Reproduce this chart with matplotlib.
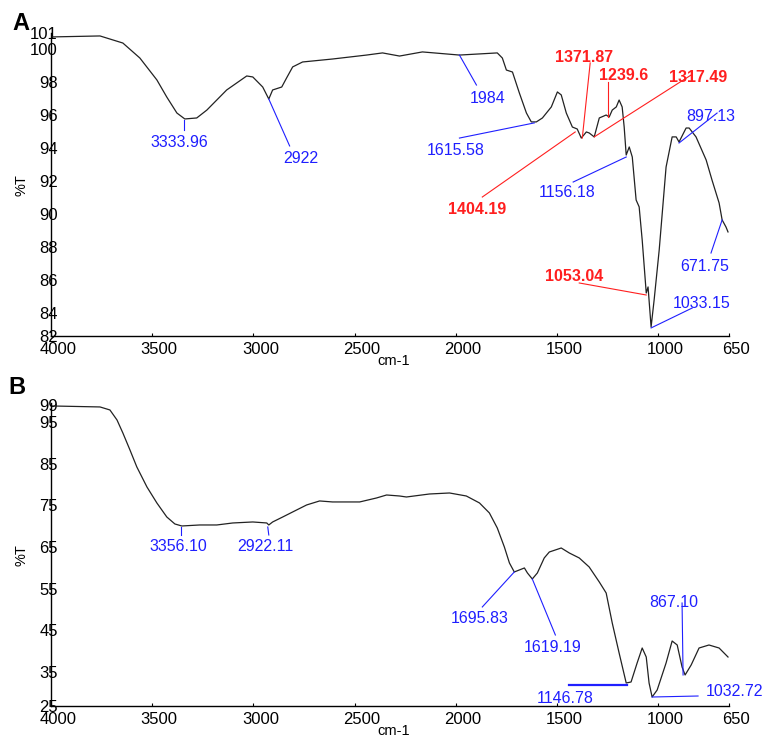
import matplotlib
matplotlib.use('Agg')
import matplotlib.pyplot as plt
from matplotlib.transforms import ScaledTranslation

plt.rcParams['font.family'] = ['Liberation Sans', 'DejaVu Sans']

# ---- panel A spectrum (wavenumber, %T)
wn_a = [4000, 3758, 3645, 3561, 3477, 3428, 3378, 3339, 3280, 3230, 3132, 3033, 3003,
        2954, 2924, 2905, 2860, 2836, 2806, 2757, 2609, 2441, 2362, 2278, 2165, 1982,
        1795, 1770, 1750, 1720, 1686, 1651, 1627, 1602, 1572, 1528, 1498, 1479, 1454,
        1424, 1400, 1380, 1355, 1341, 1316, 1291, 1257, 1242, 1227, 1207, 1193, 1178,
        1168, 1158, 1143, 1128, 1109, 1094, 1079, 1059, 1050, 1035, 1020, 995, 961,
        931, 911, 897, 862, 847, 813, 763, 734, 699, 684, 665, 655]
t_a = [100.76, 100.82, 100.39, 99.48, 98.15, 97.11, 96.14, 95.78, 95.84, 96.32, 97.54,
       98.39, 98.33, 97.72, 96.99, 97.54, 97.72, 98.27, 98.94, 99.24, 99.42, 99.66,
       99.79, 99.60, 99.85, 99.66, 99.79, 99.48, 98.75, 98.63, 97.36, 96.14, 95.60,
       95.60, 95.84, 96.51, 97.42, 97.24, 96.14, 95.29, 95.17, 94.62, 94.99, 94.93,
       94.69, 95.84, 96.02, 95.90, 96.32, 96.51, 96.93, 96.51, 95.29, 93.59, 94.08,
       93.47, 90.86, 90.44, 88.43, 85.21, 85.58, 83.15, 84.79, 87.82, 92.86, 94.69,
       94.69, 94.38, 95.23, 95.23, 94.69, 93.29, 92.07, 90.68, 89.65, 89.22, 88.92]

# ---- panel B spectrum
wn_b = [4000, 3758, 3709, 3674, 3645, 3610, 3576, 3526, 3477, 3428, 3388, 3354, 3265,
        3181, 3102, 3003, 2934, 2924, 2905, 2855, 2806, 2737, 2673, 2609, 2475, 2392,
        2342, 2278, 2244, 2130, 2031, 1948, 1883, 1834, 1795, 1760, 1735, 1711, 1686,
        1661, 1646, 1622, 1597, 1563, 1538, 1479, 1439, 1390, 1341, 1291, 1257, 1227,
        1193, 1158, 1134, 1104, 1079, 1059, 1045, 1030, 1005, 961, 931, 906, 882, 867,
        837, 798, 749, 699, 655]
t_b = [98.84, 98.60, 97.88, 95.48, 92.36, 88.29, 84.21, 79.41, 75.58, 72.22, 70.54,
       70.06, 70.30, 70.30, 70.78, 71.02, 70.78, 70.30, 71.02, 72.22, 73.42, 75.10,
       76.06, 75.82, 75.82, 76.77, 77.49, 77.25, 77.01, 77.73, 77.97, 77.25, 75.58,
       73.18, 69.58, 65.02, 61.19, 59.03, 59.51, 59.99, 58.79, 57.35, 58.79, 62.39,
       63.82, 64.78, 63.58, 62.39, 60.23, 56.63, 53.99, 46.80, 39.60, 32.41, 32.65,
       37.21, 40.80, 38.64, 32.41, 29.05, 30.73, 37.21, 42.48, 41.52, 36.25, 34.33,
       36.73, 40.80, 41.52, 40.80, 38.64]

xticks = [4000, 3500, 3000, 2500, 2000, 1500, 1000, 650]
yticks_a = [82.6, 84, 86, 88, 90, 92, 94, 96, 98, 100, 101]
ylabels_a = ['82', '84', '86', '88', '90', '92', '94', '96', '98', '100', '101']
yticks_b = [26.9, 35, 45, 55, 65, 75, 85, 95, 99]
ylabels_b = ['25', '35', '45', '55', '65', '75', '85', '95', '99']

# peak labels: text, colour, bold, line (x0, y0, x1, y1), text position
peaks_a = [
    ('3333.96', 'b', False, (3344, 95.72, 3344, 95.11), (3364, 94.38)),
    ('2922', 'b', False, (2924, 96.99, 2821, 94.14), (2767, 93.35)),
    ('1984', 'b', False, (1982, 99.66, 1898, 97.84), (1844, 97.05)),
    ('1615.58', 'b', False, (1612, 95.54, 1982, 94.62), (2002, 93.84)),
    ('1371.87', 'r', True, (1375, 94.62, 1336, 99.18), (1365, 99.54)),
    ('1239.6', 'r', True, (1247, 95.90, 1247, 98.02), (1173, 98.39)),
    ('1317.49', 'r', True, (1316, 94.69, 837, 98.45), (803, 98.27)),
    ('1404.19', 'r', True, (1410, 94.99, 1869, 91.04), (1893, 90.31)),
    ('1156.18', 'b', False, (1158, 93.47, 1420, 91.95), (1449, 91.29)),
    ('897.13', 'b', False, (897, 94.32, 709, 96.14), (739, 95.90)),
    ('671.75', 'b', False, (684, 89.65, 739, 87.64), (768, 86.85)),
    ('1053.04', 'r', True, (1059, 85.09, 1390, 85.82), (1415, 86.19)),
    ('1033.15', 'b', False, (1035, 83.09, 832, 84.30), (783, 84.55)),
]
peaks_b = [
    ('3356.10', 'b', False, (3359, 69.82, 3359, 67.90), (3373, 65.02)),
    ('2922.11', 'b', False, (2929, 69.82, 2924, 67.90), (2939, 65.02)),
    ('1695.83', 'b', False, (1711, 59.03, 1869, 50.64), (1883, 47.76)),
    ('1619.19', 'b', False, (1622, 57.35, 1508, 43.92), (1523, 41.04)),
    ('1146.78', 'b', False, (1153, 31.93, 1439, 31.93), (1459, 28.81)),
    ('1032.72', 'b', False, (1030, 29.05, 803, 29.29), (625, 30.25)),
    ('867.10', 'b', False, (877, 34.33, 882, 51.59), (921, 51.83)),
]

colors = {'b': '#1f1fff', 'r': '#ff1f1f'}

fig = plt.figure(figsize=(7.73, 7.38), dpi=100)
ax_a = fig.add_axes([0.066, 0.5447, 0.8771, 0.4106])
ax_b = fig.add_axes([0.066, 0.0434, 0.8771, 0.4106])


def setup(ax, wn, t, ylim, yt, yl, peaks):
    ax.plot(wn, t, color='#222222', lw=0.9)
    ax.set_xlim(4000, 650)
    ax.set_ylim(*ylim)
    ax.set_xticks(xticks)
    ax.set_xticklabels([str(v) for v in xticks])
    ax.set_yticks(yt)
    ax.set_yticklabels(yl)
    for s in ['top', 'right']:
        ax.spines[s].set_visible(False)
    for s in ['left', 'bottom']:
        ax.spines[s].set_linewidth(1.0)
    ax.tick_params(axis='both', labelsize=12)
    ax.tick_params(axis='y', length=0, pad=-5)
    ax.tick_params(axis='x', direction='in', length=2, pad=4)
    off = ScaledTranslation(7 / 100, 0, fig.dpi_scale_trans)
    for lab in ax.get_xticklabels():
        lab.set_transform(lab.get_transform() + off)
    for txt, c, bold, (x0, y0, x1, y1), (tx, ty) in peaks:
        lw = 1.6 if txt == '1146.78' else 0.8
        ax.plot([x0, x1], [y0, y1], color=colors[c], lw=lw, clip_on=False)
        ax.text(tx, ty, txt, color=colors[c], fontsize=11.5,
                fontweight='bold' if bold else 'normal',
                ha='center', va='center', clip_on=False)


setup(ax_a, wn_a, t_a, (82.6, 101), yticks_a, ylabels_a, peaks_a)
setup(ax_b, wn_b, t_b, (26.9, 99.56), yticks_b, ylabels_b, peaks_b)

W, H = 773, 738
fig.text(394 / W, 1 - 361 / H, 'cm-1', fontsize=10.5, ha='center', va='center')
fig.text(394 / W, 1 - 731 / H, 'cm-1', fontsize=10.5, ha='center', va='center')
fig.text(22 / W, 1 - 185 / H, '%T', fontsize=10.5, rotation=90, ha='center', va='center')
fig.text(22 / W, 1 - 555 / H, '%T', fontsize=10.5, rotation=90, ha='center', va='center')
fig.text(21 / W, 1 - 24 / H, 'A', fontsize=17, fontweight='bold', ha='center', va='center')
fig.text(17 / W, 1 - 388 / H, 'B', fontsize=17, fontweight='bold', ha='center', va='center')

fig.savefig('out.png', dpi=100)
